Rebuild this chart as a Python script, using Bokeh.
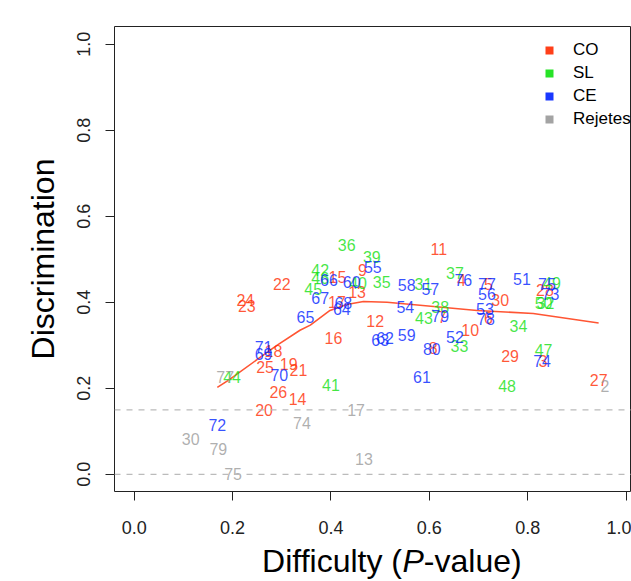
import math
from bokeh.plotting import figure
from bokeh.layouts import column
from bokeh.models import (ColumnDataSource, Range1d, FixedTicker, PrintfTickFormatter,
                          Span, Legend, LegendItem)
from bokeh.core.properties import value
from bokeh.embed import file_html
from bokeh.resources import INLINE

FONT = "Liberation Sans"

# ---- data: item labels with (difficulty, discrimination) per group ----
co_items = ["22", "24", "23", "9", "15", "13", "17", "12", "16", "18", "25", "19", "21",
            "26", "14", "20", "11", "10", "30", "29", "27", "4", "7", "8", "5", "6", "3", "28"]
co_x = [0.300, 0.226, 0.229, 0.464, 0.413, 0.453, 0.412, 0.490, 0.405, 0.283, 0.266, 0.314, 0.334,
        0.293, 0.332, 0.264, 0.619, 0.683, 0.744, 0.764, 0.944, 0.665, 0.626, 0.608, 0.720, 0.720, 0.831, 0.835]
co_y = [0.443, 0.405, 0.391, 0.474, 0.458, 0.424, 0.401, 0.357, 0.316, 0.287, 0.250, 0.257, 0.242,
        0.191, 0.176, 0.150, 0.525, 0.335, 0.405, 0.274, 0.220, 0.451, 0.365, 0.293, 0.442, 0.363, 0.263, 0.428]

sl_items = ["36", "39", "42", "46", "40", "45", "35", "31", "37", "38", "43", "33", "34",
            "47", "48", "41", "44", "49", "50", "32"]
sl_x = [0.432, 0.483, 0.378, 0.378, 0.455, 0.364, 0.503, 0.588, 0.652, 0.622, 0.589, 0.661, 0.781,
        0.832, 0.758, 0.400, 0.199, 0.849, 0.832, 0.836]
sl_y = [0.533, 0.505, 0.474, 0.456, 0.444, 0.432, 0.447, 0.443, 0.468, 0.389, 0.364, 0.298, 0.344,
        0.288, 0.205, 0.207, 0.226, 0.445, 0.398, 0.398]

ce_items = ["55", "66", "60", "58", "67", "68", "64", "65", "54", "63", "62", "59", "71", "69",
            "70", "72", "57", "76", "79", "52", "80", "61", "77", "56", "51", "53", "78", "74",
            "75", "73"]
ce_x = [0.485, 0.396, 0.442, 0.554, 0.378, 0.425, 0.422, 0.348, 0.551, 0.500, 0.510, 0.554, 0.263, 0.263,
        0.295, 0.169, 0.602, 0.669, 0.622, 0.652, 0.605, 0.585, 0.717, 0.717, 0.788, 0.713, 0.715, 0.829,
        0.839, 0.846]
ce_y = [0.481, 0.453, 0.447, 0.440, 0.409, 0.398, 0.385, 0.366, 0.388, 0.312, 0.318, 0.323, 0.296, 0.279,
        0.230, 0.114, 0.430, 0.451, 0.367, 0.319, 0.292, 0.226, 0.443, 0.420, 0.455, 0.385, 0.362, 0.264,
        0.443, 0.420]

rej_items = ["77", "30", "79", "74", "75", "17", "13", "2"]
rej_x = [0.185, 0.115, 0.171, 0.341, 0.201, 0.451, 0.467, 0.957]
rej_y = [0.226, 0.081, 0.060, 0.120, 0.000, 0.150, 0.036, 0.205]

# smoothed trend
smooth_x = [0.169, 0.192, 0.290, 0.337, 0.358, 0.398, 0.432, 0.466, 0.514, 0.581, 0.697, 0.811, 0.944]
smooth_y = [0.202, 0.219, 0.300, 0.335, 0.347, 0.381, 0.395, 0.402, 0.400, 0.393, 0.381, 0.374, 0.352]

cutoffs = [0.0, 0.15]
ticks = [0.0, 0.2, 0.4, 0.6, 0.8, 1.0]

group_names = ["CO", "SL", "CE", "Rejetes"]
group_colors = ["#FF2A00", "#10E010", "#0022FF", "#999999"]

x_title_parts = ["Difficulty (", "P", "-value)"]

# ---- main figure ----
p = figure(width=631, height=541, output_backend="svg", toolbar_location=None,
           x_range=Range1d(-0.04, 1.0108), y_range=Range1d(-0.04, 1.0414),
           min_border_left=114, min_border_right=0, min_border_top=26, min_border_bottom=50)
p.grid.visible = False
p.outline_line_color = "#222222"
p.outline_line_width = 1
p.background_fill_color = "white"
p.border_fill_color = "white"

for ax in (p.xaxis[0], p.yaxis[0]):
    ax.ticker = FixedTicker(ticks=ticks)
    ax.formatter = PrintfTickFormatter(format="%.1f")
    ax.axis_line_color = None
    ax.major_tick_in = 0
    ax.major_tick_out = 9
    ax.major_tick_line_color = "#222222"
    ax.minor_tick_line_color = None
    ax.major_label_text_font = FONT
    ax.major_label_text_font_size = "18px"
    ax.major_label_text_color = "#222222"

p.xaxis.major_label_standoff = 20
p.yaxis.major_label_standoff = 15
p.yaxis.major_label_orientation = "vertical"
p.yaxis.axis_label = "Discrimination"
p.yaxis.axis_label_text_font = FONT
p.yaxis.axis_label_text_font_size = "32px"
p.yaxis.axis_label_text_font_style = "normal"
p.yaxis.axis_label_text_color = "black"
p.yaxis.axis_label_standoff = 14

for c in cutoffs:
    p.add_layout(Span(location=c, dimension="width", line_color="#BBBBBB",
                      line_dash="6 6", line_width=1.2))

p.line(smooth_x, smooth_y, line_color="#FF5533", line_width=1.6)

groups = [(co_items, co_x, co_y), (sl_items, sl_x, sl_y), (ce_items, ce_x, ce_y),
          (rej_items, rej_x, rej_y)]
for (items, xs, ys), col in zip(groups, group_colors):
    src = ColumnDataSource(dict(x=xs, y=ys, t=items))
    p.text(x="x", y="y", text="t", source=src, text_color=col, text_alpha=0.78,
           text_align="center", text_baseline="middle", text_font=value(FONT),
           text_font_size="16px")

# legend (renderers hold a NaN point so nothing shows in the plot area)
legend_items = []
for name, col in zip(group_names, group_colors):
    r = p.scatter(x=[math.nan], y=[math.nan], marker="square", size=9, fill_color=col,
                  fill_alpha=0.9, line_color=None)
    legend_items.append(LegendItem(label=name, renderers=[r]))
legend = Legend(items=legend_items, location=(425, 361), glyph_width=20, glyph_height=22,
                label_height=22, spacing=1, padding=0, margin=0, label_standoff=14,
                label_text_font=FONT, label_text_font_size="17px", label_text_color="black",
                background_fill_alpha=0, border_line_color=None)
p.add_layout(legend)

# ---- x axis title strip (mixed upright / italic), sharing the x scale ----
t = figure(width=631, height=40, output_backend="svg", toolbar_location=None,
           x_range=p.x_range, y_range=Range1d(0, 40),
           min_border_left=114, min_border_right=0, min_border_top=0, min_border_bottom=0,
           x_axis_location=None, y_axis_location=None)
t.grid.visible = False
t.outline_line_color = None
t.border_fill_color = "white"
t.background_fill_color = "white"
lefts = [0.260, 0.5455, 0.5888]
styles = ["normal", "italic", "normal"]
for txt, xl, st in zip(x_title_parts, lefts, styles):
    t.text(x=[xl], y=[21], text=[txt], text_font=value(FONT), text_font_size="32px",
           text_font_style=st, text_align="left", text_baseline="middle", text_color="black")

layout = column(p, t, spacing=0)
open("out.html", "w").write(file_html(layout, INLINE))
